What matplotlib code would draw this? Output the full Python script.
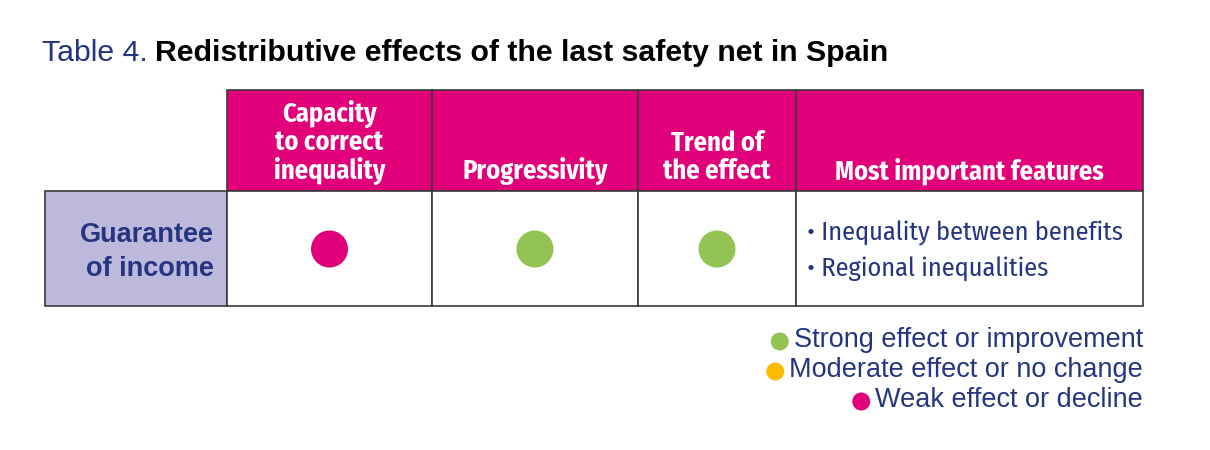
import matplotlib
matplotlib.use("Agg")
import matplotlib.pyplot as plt
from matplotlib.patches import Rectangle, Circle

# ---- data ----
title_prefix = "Table 4."
title_main = "Redistributive effects of the last safety net in Spain"
columns = ["Capacity\nto correct\ninequality", "Progressivity", "Trend of\nthe effect", "Most important features"]
row_label = "Guarantee\nof income"
ratings = ["weak", "strong", "strong"]
features = ["• Inequality between benefits", "• Regional inequalities"]
legend_keys = ["strong", "moderate", "weak"]
legend_labels = ["Strong effect or improvement", "Moderate effect or no change", "Weak effect or decline"]

colors = {"strong": "#92c353", "moderate": "#fdbb00", "weak": "#e2007a"}
NAVY = "#263580"
MAGENTA = "#e2007a"
LAV = "#bdb9dc"
LINE = "#3a3a3a"

fig = plt.figure(figsize=(12.1, 4.5), dpi=100)
ax = fig.add_axes([0, 0, 1, 1])
ax.set_xlim(0, 1210)
ax.set_ylim(450, 0)
ax.axis("off")

FONT = ["Liberation Sans", "DejaVu Sans"]
COND = ["Fira Sans Condensed", "Fira Sans Extra Condensed", "Liberation Sans", "DejaVu Sans"]

inv = ax.transData.inverted()

# title
t1 = ax.text(42, 61, title_prefix + " ", fontsize=21.8, color=NAVY, family=FONT, va="baseline")
fig.canvas.draw()
bb = t1.get_window_extent()
x_end = inv.transform((bb.x1, bb.y0))[0]
ax.text(x_end - 1, 61, title_main, fontsize=21.8, color="black", weight="bold", family=FONT, va="baseline")

# table geometry
col_edges = [227, 432, 638, 796, 1143]
row_hdr = (45, 227)
y_head = (90, 191)
y_body = (191, 306)

# header cells
for i, lab in enumerate(columns):
    x0, x1 = col_edges[i], col_edges[i + 1]
    ax.add_patch(Rectangle((x0, y_head[0]), x1 - x0, y_head[1] - y_head[0],
                           facecolor=MAGENTA, edgecolor=LINE, lw=1.2))
    ax.text((x0 + x1) / 2, 179, lab, ha="center", va="baseline", color="white",
            fontsize=19, weight="bold", family=COND, linespacing=1.05)

# row header cell
ax.add_patch(Rectangle((row_hdr[0], y_body[0]), row_hdr[1] - row_hdr[0], y_body[1] - y_body[0],
                       facecolor=LAV, edgecolor=LINE, lw=1.2))
ax.text(214, 252, row_label, ha="right", va="center", color=NAVY, fontsize=19.5,
        weight="bold", family=FONT, linespacing=1.4)

# body cells
for i in range(len(columns)):
    x0, x1 = col_edges[i], col_edges[i + 1]
    ax.add_patch(Rectangle((x0, y_body[0]), x1 - x0, y_body[1] - y_body[0],
                           facecolor="white", edgecolor=LINE, lw=1.2))

# rating circles
for i, r in enumerate(ratings):
    cx = (col_edges[i] + col_edges[i + 1]) / 2
    ax.add_patch(Circle((cx, 249), 18.5, facecolor=colors[r], edgecolor="none"))

# features
for j, f in enumerate(features):
    ax.text(807, 241 + 35 * j, f, ha="left", va="baseline", color=NAVY, fontsize=19, family=COND)

# legend
for j, (k, lab) in enumerate(zip(legend_keys, legend_labels)):
    y = 340 + 30 * j
    t = ax.text(1143, y, lab, ha="right", va="center", color=NAVY, fontsize=19.5, family=FONT)
    fig.canvas.draw()
    bb = t.get_window_extent()
    xs = inv.transform((bb.x0, bb.y0))[0]
    ax.add_patch(Circle((xs - 14, y + 1.5), 9, facecolor=colors[k], edgecolor="none"))

fig.savefig("out.png", dpi=100, facecolor="white")
